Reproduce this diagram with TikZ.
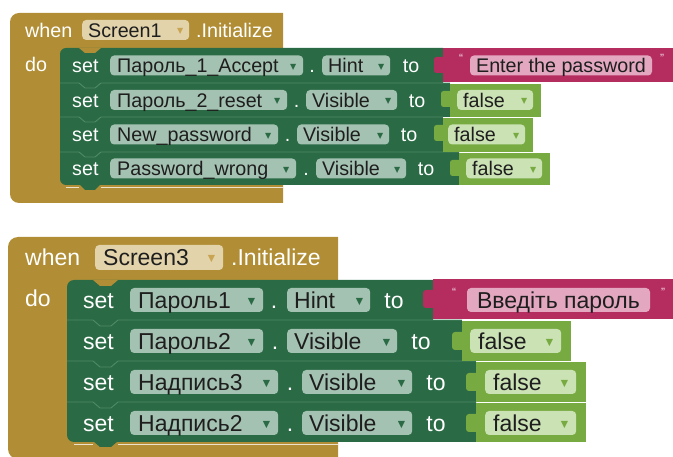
\documentclass[tikz,border=0pt]{standalone}
\usepackage{fontspec}
\setmainfont{Liberation Sans}
\newfontfamily\dv{DejaVu Sans}
\definecolor{gold}{HTML}{B18E35}
\definecolor{goldpill}{HTML}{E2D3AB}
\definecolor{goldtri}{HTML}{C9A452}
\definecolor{gblk}{HTML}{2A6A45}
\definecolor{gpill}{HTML}{A4C2B2}
\definecolor{gsep}{HTML}{4F8B68}
\definecolor{pblk}{HTML}{B52D5F}
\definecolor{ppill}{HTML}{E3A8BF}
\definecolor{lblk}{HTML}{77AB41}
\definecolor{lpill}{HTML}{CBE2B4}
\definecolor{txt}{HTML}{1E1E1E}
\newcommand\pl[4]{\makebox[#1][l]{\hspace{#2}#3\hfill#4\hspace{#2}}}
\newcommand\tra[1]{\raisebox{3.2pt}{\fontsize{8}{8}\dv\color{#1}▼}}
\newcommand\trb[1]{\raisebox{3.8pt}{\fontsize{9.5}{9.5}\dv\color{#1}▼}}
\tikzset{
  bA/.style={font=\fontsize{19.7}{22}\selectfont, text height=14.1pt, text depth=0pt},
  bB/.style={font=\fontsize{23}{26}\selectfont, text height=16.5pt, text depth=0pt},
  lbl/.style={inner sep=0pt, text=white},
  pill/.style={rounded corners=4pt, inner sep=0pt, anchor=west, text=txt},
  quo/.style={inner sep=0pt, text=white!85!pblk, font=\fontsize{12}{12}\selectfont, text height=8pt, text depth=0pt},
  sepline/.style={draw=gsep, line width=0.9pt},
}
\begin{document}
\begin{tikzpicture}[x=1pt,y=-1pt]
\useasboundingbox (0,0) rectangle (673,457);
% ================= Block 1 =================
\begin{scope}[every node/.append style={bA}]
\fill[gold] (283,203) [rounded corners=9] -- (10,203) -- (10,13) [sharp corners] -- (283,13) -- cycle;
% green rows
\fill[gblk] (60,83) [rounded corners=6] -- (60,48) [sharp corners] -- (443,48) -- (443,83) -- cycle;
\fill[gblk] (60,83) rectangle (450,117);
\fill[gblk] (60,117) rectangle (443,152);
\fill[gblk] (60,152) [rounded corners=6] -- (60,185) [sharp corners] -- (459,185) -- (459,152) -- cycle;
\fill[gblk] (79,184) -- (85,190) -- (95,190) -- (101,184) -- cycle;
\fill[gold] (79,48) -- (85,53) -- (95,53) -- (101,48) -- cycle;
\draw[white!75!gold, line width=1.2pt] (66,187.5) -- (79,187.5) (101,187.5) -- (283,187.5);
\draw[sepline] (60,83) -- (79,83) -- (85,88) -- (95,88) -- (101,83) -- (450,83);
\draw[sepline] (60,117) -- (79,117) -- (85,122) -- (95,122) -- (101,117) -- (443,117);
\draw[sepline] (60,152) -- (79,152) -- (85,157) -- (95,157) -- (101,152) -- (459,152);
% value blocks
\fill[pblk] (443,48) rectangle (673,82);
\fill[pblk, rounded corners=2.5pt] (446,57) -- (434,57) -- (434,73) -- (446,73) -- cycle;
\fill[lblk] (450,84) rectangle (541,117);
\fill[lblk, rounded corners=2.5pt] (453,91) -- (441,91) -- (441,107) -- (453,107) -- cycle;
\fill[lblk] (443,118) rectangle (533,152);
\fill[lblk, rounded corners=2.5pt] (446,125) -- (434,125) -- (434,141) -- (446,141) -- cycle;
\fill[lblk] (459,153) rectangle (550,185);
\fill[lblk, rounded corners=2.5pt] (462,160) -- (450,160) -- (450,176) -- (462,176) -- cycle;
% header
\node[lbl, anchor=west] (w1) at (25,30) {when};
\node[pill, fill=goldpill, minimum height=20pt] (s1) at (82,30) {\pl{107pt}{6pt}{Screen1}{\tra{goldtri}}};
\node[lbl, anchor=west] (i1) at (196,30) {.Initialize};
\node[lbl, anchor=west] (d1) at (25,64) {do};
% row 1
\node[lbl, anchor=west] (st11) at (72,65.5) {set};
\node[pill, fill=gpill, minimum height=20pt] (c11) at (110,65.5) {\pl{193pt}{7pt}{Пароль\_1\_Accept}{\tra{gblk}}};
\node[lbl] (dt11) at (312,65.5) {.};
\node[pill, fill=gpill, minimum height=20pt] (p11) at (322,65.5) {\pl{68pt}{6pt}{Hint}{\tra{gblk}}};
\node[lbl] (to11) at (411,65.5) {to};
\node[quo] (q11) at (461,59) {“};
\node[pill, fill=ppill, minimum height=20pt, minimum width=182pt, anchor=center] (v11) at (561,65.5) {Enter the password};
\node[quo] (q12) at (662,59) {”};
% row 2
\node[lbl, anchor=west] (st12) at (72,100) {set};
\node[pill, fill=gpill, minimum height=20pt] (c12) at (110,100) {\pl{177pt}{7pt}{Пароль\_2\_reset}{\tra{gblk}}};
\node[lbl] (dt12) at (296.5,100) {.};
\node[pill, fill=gpill, minimum height=20pt] (p12) at (306,100) {\pl{91pt}{6pt}{Visible}{\tra{gblk}}};
\node[lbl] (to12) at (417,100) {to};
\node[pill, fill=lpill, minimum height=20pt] (v12) at (457,100) {\pl{76pt}{6pt}{false}{\tra{lblk}}};
% row 3
\node[lbl, anchor=west] (st13) at (72,134.5) {set};
\node[pill, fill=gpill, minimum height=20pt] (c13) at (110,134.5) {\pl{168pt}{7pt}{New\_password}{\tra{gblk}}};
\node[lbl] (dt13) at (287.5,134.5) {.};
\node[pill, fill=gpill, minimum height=20pt] (p13) at (297,134.5) {\pl{92pt}{6pt}{Visible}{\tra{gblk}}};
\node[lbl] (to13) at (409,134.5) {to};
\node[pill, fill=lpill, minimum height=20pt] (v13) at (448,134.5) {\pl{77pt}{6pt}{false}{\tra{lblk}}};
% row 4
\node[lbl, anchor=west] (st14) at (72,168.5) {set};
\node[pill, fill=gpill, minimum height=20pt] (c14) at (110,168.5) {\pl{186pt}{7pt}{Password\_wrong}{\tra{gblk}}};
\node[lbl] (dt14) at (306,168.5) {.};
\node[pill, fill=gpill, minimum height=20pt] (p14) at (316,168.5) {\pl{90pt}{6pt}{Visible}{\tra{gblk}}};
\node[lbl] (to14) at (426,168.5) {to};
\node[pill, fill=lpill, minimum height=20pt] (v14) at (466,168.5) {\pl{76pt}{6pt}{false}{\tra{lblk}}};
\end{scope}
% ================= Block 2 =================
\begin{scope}[every node/.append style={bB}]
\fill[gold] (338,459) [rounded corners=10] -- (8,459) -- (8,237) [sharp corners] -- (338,237) -- cycle;
\fill[gblk] (67,320) [rounded corners=7] -- (67,280) [sharp corners] -- (433,280) -- (433,320) -- cycle;
\fill[gblk] (67,320) rectangle (462,361);
\fill[gblk] (67,361) rectangle (476,402);
\fill[gblk] (67,402) [rounded corners=7] -- (67,442) [sharp corners] -- (476,442) -- (476,402) -- cycle;
\fill[gblk] (93,441) -- (100,447) -- (111,447) -- (118,441) -- cycle;
\fill[gold] (93,280) -- (100,286) -- (111,286) -- (118,280) -- cycle;
\draw[white!75!gold, line width=1.3pt] (74,444.5) -- (93,444.5) (118,444.5) -- (338,444.5);
\draw[sepline] (67,320) -- (93,320) -- (100,326) -- (111,326) -- (118,320) -- (462,320);
\draw[sepline] (67,361) -- (93,361) -- (100,367) -- (111,367) -- (118,361) -- (476,361);
\draw[sepline] (67,402) -- (93,402) -- (100,408) -- (111,408) -- (118,402) -- (476,402);
% value blocks
\fill[pblk] (433,279) rectangle (673,319);
\fill[pblk, rounded corners=3pt] (436,290) -- (423,290) -- (423,308) -- (436,308) -- cycle;
\fill[lblk] (462,321) rectangle (571,361);
\fill[lblk, rounded corners=3pt] (465,332) -- (452,332) -- (452,350) -- (465,350) -- cycle;
\fill[lblk] (476,362) rectangle (586,402);
\fill[lblk, rounded corners=3pt] (479,373) -- (466,373) -- (466,391) -- (479,391) -- cycle;
\fill[lblk] (476,403) rectangle (586,442);
\fill[lblk, rounded corners=3pt] (479,414) -- (466,414) -- (466,432) -- (479,432) -- cycle;
% header
\node[lbl, anchor=west] (w2) at (25,257.5) {when};
\node[pill, fill=goldpill, minimum height=25pt] (s2) at (95,257.5) {\pl{128pt}{8pt}{Screen3}{\trb{goldtri}}};
\node[lbl, anchor=west] (i2) at (231,257.5) {.Initialize};
\node[lbl, anchor=west] (d2) at (25,298) {do};
% row 1
\node[lbl, anchor=west] (st21) at (83,300) {set};
\node[pill, fill=gpill, minimum height=24pt] (c21) at (130,300) {\pl{133pt}{8pt}{Пароль1}{\trb{gblk}}};
\node[lbl] (dt21) at (274,300) {.};
\node[pill, fill=gpill, minimum height=24pt] (p21) at (287,300) {\pl{83pt}{7pt}{Hint}{\trb{gblk}}};
\node[lbl] (to21) at (394,300) {to};
\node[quo] (q21) at (454,293) {“};
\node[pill, fill=ppill, minimum height=24pt, minimum width=183pt, anchor=center] (v21) at (558.5,300) {Введіть пароль};
\node[quo] (q22) at (663,293) {”};
% row 2
\node[lbl, anchor=west] (st22) at (83,341) {set};
\node[pill, fill=gpill, minimum height=24pt] (c22) at (130,341) {\pl{133pt}{8pt}{Пароль2}{\trb{gblk}}};
\node[lbl] (dt22) at (275,341) {.};
\node[pill, fill=gpill, minimum height=24pt] (p22) at (287,341) {\pl{110pt}{7pt}{Visible}{\trb{gblk}}};
\node[lbl] (to22) at (421,341) {to};
\node[pill, fill=lpill, minimum height=24pt] (v22) at (470,341) {\pl{91pt}{8pt}{false}{\trb{lblk}}};
% row 3
\node[lbl, anchor=west] (st23) at (83,382) {set};
\node[pill, fill=gpill, minimum height=24pt] (c23) at (130,382) {\pl{148pt}{8pt}{Надпись3}{\trb{gblk}}};
\node[lbl] (dt23) at (290,382) {.};
\node[pill, fill=gpill, minimum height=24pt] (p23) at (302,382) {\pl{110pt}{7pt}{Visible}{\trb{gblk}}};
\node[lbl] (to23) at (436,382) {to};
\node[pill, fill=lpill, minimum height=24pt] (v23) at (485,382) {\pl{91pt}{8pt}{false}{\trb{lblk}}};
% row 4
\node[lbl, anchor=west] (st24) at (83,423) {set};
\node[pill, fill=gpill, minimum height=24pt] (c24) at (130,423) {\pl{148pt}{8pt}{Надпись2}{\trb{gblk}}};
\node[lbl] (dt24) at (290,423) {.};
\node[pill, fill=gpill, minimum height=24pt] (p24) at (302,423) {\pl{110pt}{7pt}{Visible}{\trb{gblk}}};
\node[lbl] (to24) at (436,423) {to};
\node[pill, fill=lpill, minimum height=24pt] (v24) at (485,423) {\pl{91pt}{8pt}{false}{\trb{lblk}}};
\end{scope}
\end{tikzpicture}
\end{document}
